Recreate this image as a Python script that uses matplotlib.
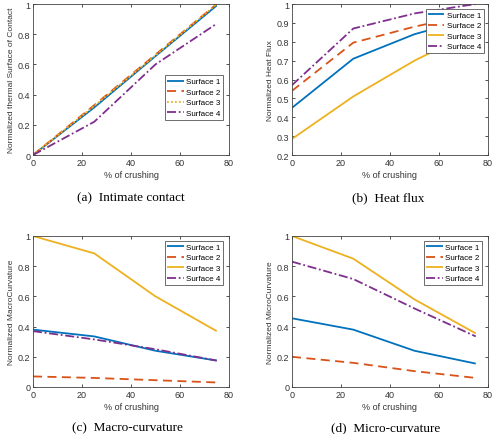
import matplotlib
matplotlib.use('Agg')
import matplotlib.pyplot as plt
import numpy as np

plt.rcParams['font.family'] = ['Liberation Sans', 'DejaVu Sans']

# data
crush = [0, 25, 50, 75]
labels = ['Surface 1', 'Surface 2', 'Surface 3', 'Surface 4']

contact_s1 = [0, 0.315, 0.655, 0.99]
contact_s2 = [0, 0.33, 0.665, 1.0]
contact_s3 = [0, 0.325, 0.66, 1.0]
contact_s4 = [0, 0.22, 0.6, 0.87]

flux_s1 = [0.45, 0.71, 0.84, 0.93]
flux_s2 = [0.54, 0.795, 0.88, 0.95]
flux_s3 = [0.285, 0.51, 0.70, 0.86]
flux_s4 = [0.57, 0.87, 0.95, 1.0]

macro_s1 = [0.38, 0.335, 0.24, 0.175]
macro_s2 = [0.07, 0.06, 0.045, 0.03]
macro_s3 = [1.0, 0.885, 0.6, 0.37]
macro_s4 = [0.37, 0.315, 0.25, 0.175]

micro_s1 = [0.455, 0.38, 0.24, 0.155]
micro_s2 = [0.2, 0.16, 0.105, 0.06]
micro_s3 = [1.0, 0.85, 0.58, 0.355]
micro_s4 = [0.83, 0.715, 0.52, 0.335]

colors = ['#0072BD', '#D95319', '#EDB120', '#7E2F8E']

W, H = 498, 435
fig = plt.figure(figsize=(W / 100, H / 100), dpi=100)

def make_ax(l, t, r, b):
    return fig.add_axes([l / W, (H - b) / H, (r - l) / W, (b - t) / H])

SOLID, DASH, DOT, DASHDOT = (0, ()), (0, (5, 3)), (0, (1, 1.2)), (0, (5, 1.5, 1, 1.5))

panels = [
    (make_ax(33, 5, 229, 156), [contact_s1, contact_s2, contact_s3, contact_s4],
     'Normalized thermal Surface of Contact', (0, 1), 0.2, [SOLID, DASH, DOT, DASHDOT],
     '(a)  Intimate contact', (131, 198), (0.97, 0.53)),
    (make_ax(292, 5, 488, 156), [flux_s1, flux_s2, flux_s3, flux_s4],
     'Normalized Heat Flux', (0.2, 1), 0.1, [SOLID, DASH, SOLID, DASHDOT],
     '(b)  Heat flux', (388, 198), (0.98, 0.97)),
    (make_ax(33, 237, 229, 388), [macro_s1, macro_s2, macro_s3, macro_s4],
     'Normalized MacroCurvature', (0, 1), 0.2, [SOLID, DASH, SOLID, DASHDOT],
     '(c)  Macro-curvature', (127, 428), (0.97, 0.97)),
    (make_ax(292, 237, 488, 388), [micro_s1, micro_s2, micro_s3, micro_s4],
     'Normalized MicroCurvature', (0, 1), 0.2, [SOLID, DASH, SOLID, DASHDOT],
     '(d)  Micro-curvature', (386, 428), (0.97, 0.97)),
]

for ax, series, ylab, ylim, ystep, styles, cap, cpos, lpos in panels:
    for vals, c, ls, lab in zip(series, colors, styles, labels):
        ax.plot(crush, vals, color=c, linestyle=ls, linewidth=1.3, label=lab)
    ax.set_xlim(0, 80)
    ax.set_ylim(*ylim)
    ax.set_xticks([0, 20, 40, 60, 80])
    ax.set_yticks(np.round(np.arange(ylim[0], ylim[1] + 1e-9, ystep), 2))
    ax.set_yticklabels(['%g' % v for v in ax.get_yticks()])
    ax.tick_params(direction='in', length=2.5, width=0.6, labelsize=6.5,
                   colors='#333333', top=True, right=True, pad=2)
    for sp in ax.spines.values():
        sp.set_linewidth(0.6)
        sp.set_color('#444444')
    ax.set_xlabel('% of crushing', fontsize=6.5, color='#333333', labelpad=2)
    ax.set_ylabel(ylab, fontsize=6, color='#333333', labelpad=2)
    leg = ax.legend(loc='upper right', bbox_to_anchor=lpos, fontsize=5.8,
                    handlelength=2.0, handletextpad=0.3, borderpad=0.35,
                    labelspacing=0.35, borderaxespad=0.0, fancybox=False,
                    framealpha=1)
    leg.get_frame().set_edgecolor('#555555')
    leg.get_frame().set_linewidth(0.6)
    fig.text(cpos[0] / W, 1 - cpos[1] / H, cap, ha='center', va='center',
             fontsize=9.5, family=['Liberation Serif', 'DejaVu Serif'])

fig.savefig('out.png', dpi=100)
